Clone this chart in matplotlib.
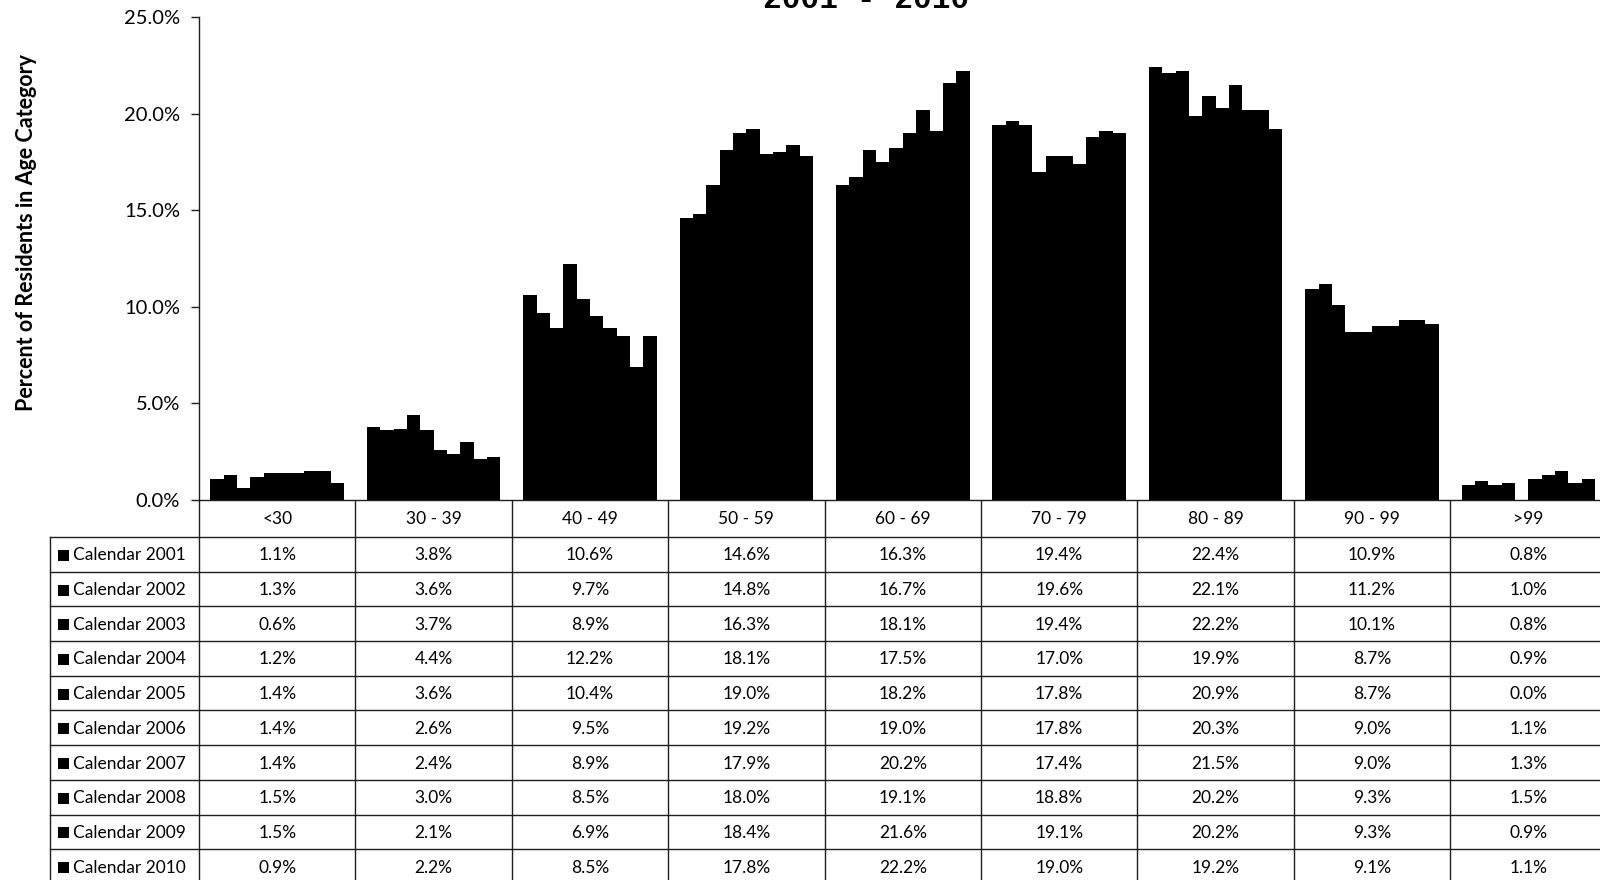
import matplotlib
matplotlib.use("Agg")
import matplotlib.pyplot as plt
import numpy as np
from matplotlib.ticker import FuncFormatter

plt.rcParams["font.family"] = ["Lato", "DejaVu Sans"]

# ---- data -------------------------------------------------------------
age_groups = ["<30", "30 - 39", "40 - 49", "50 - 59", "60 - 69",
              "70 - 79", "80 - 89", "90 - 99", ">99"]
series_names = ["Calendar 2001", "Calendar 2002", "Calendar 2003",
                "Calendar 2004", "Calendar 2005", "Calendar 2006",
                "Calendar 2007", "Calendar 2008", "Calendar 2009",
                "Calendar 2010"]
cal_2001 = [1.1, 3.8, 10.6, 14.6, 16.3, 19.4, 22.4, 10.9, 0.8]
cal_2002 = [1.3, 3.6, 9.7, 14.8, 16.7, 19.6, 22.1, 11.2, 1.0]
cal_2003 = [0.6, 3.7, 8.9, 16.3, 18.1, 19.4, 22.2, 10.1, 0.8]
cal_2004 = [1.2, 4.4, 12.2, 18.1, 17.5, 17.0, 19.9, 8.7, 0.9]
cal_2005 = [1.4, 3.6, 10.4, 19.0, 18.2, 17.8, 20.9, 8.7, 0.0]
cal_2006 = [1.4, 2.6, 9.5, 19.2, 19.0, 17.8, 20.3, 9.0, 1.1]
cal_2007 = [1.4, 2.4, 8.9, 17.9, 20.2, 17.4, 21.5, 9.0, 1.3]
cal_2008 = [1.5, 3.0, 8.5, 18.0, 19.1, 18.8, 20.2, 9.3, 1.5]
cal_2009 = [1.5, 2.1, 6.9, 18.4, 21.6, 19.1, 20.2, 9.3, 0.9]
cal_2010 = [0.9, 2.2, 8.5, 17.8, 22.2, 19.0, 19.2, 9.1, 1.1]
series_values = [cal_2001, cal_2002, cal_2003, cal_2004, cal_2005,
                 cal_2006, cal_2007, cal_2008, cal_2009, cal_2010]
y_ticks = [0, 5, 10, 15, 20, 25]

# ---- figure layout (pixel based, 1600 x 880) ---------------------------
W, H = 1600, 880
fig = plt.figure(figsize=(16, 8.8), dpi=100)
fig.patch.set_facecolor("white")

ax_left, ax_top, ax_bottom = 199.0, 17.0, 500.0
col_w = 156.4
n_groups = len(age_groups)
ax_right = ax_left + col_w * n_groups
ax = fig.add_axes([ax_left / W, 1 - ax_bottom / H,
                   (ax_right - ax_left) / W, (ax_bottom - ax_top) / H])

line_col = "#1e1e1e"

# ---- clustered bars ----------------------------------------------------
n_series = len(series_values)
margin = 0.073
bar_w = (1 - 2 * margin) / n_series
x = np.arange(n_groups)
for k, vals in enumerate(series_values):
    offs = -0.5 + margin + bar_w * (k + 0.5)
    ax.bar(x + offs, vals, width=bar_w, color="black", linewidth=0,
           label=series_names[k])

ax.set_xlim(-0.5, n_groups - 0.5)
ax.set_ylim(0, 25)
ax.set_yticks(y_ticks)
ax.yaxis.set_major_formatter(FuncFormatter(lambda v, p: f"{v:.1f}%"))
ax.set_xticks([])
ax.tick_params(axis="y", direction="out", length=6, width=1,
               color=line_col, labelsize=14.5, pad=7.5)
for s in ("top", "right"):
    ax.spines[s].set_visible(False)
for s in ("left", "bottom"):
    ax.spines[s].set_color(line_col)
    ax.spines[s].set_linewidth(1.0)

# ---- data table underneath ---------------------------------------------
ov = fig.add_axes([0, 0, 1, 1], zorder=-1)
ov.set_xlim(0, W)
ov.set_ylim(H, 0)
ov.axis("off")

label_left = 50.0
header_top, header_bot = ax_bottom, 537.0
row_h = 34.7
n_rows = len(series_names)
table_bot = header_bot + row_h * n_rows
col_edges = [ax_left + col_w * i for i in range(n_groups + 1)]

# vertical lines
for xe in col_edges:
    ov.plot([xe, xe], [header_top, table_bot], color=line_col, lw=1)
ov.plot([label_left, label_left], [header_bot, table_bot], color=line_col, lw=1)
# horizontal lines
for r in range(n_rows + 1):
    yy = header_bot + row_h * r
    ov.plot([label_left, col_edges[-1]], [yy, yy], color=line_col, lw=1)

# header labels
for i, g in enumerate(age_groups):
    cx = (col_edges[i] + col_edges[i + 1]) / 2
    ov.text(cx, (header_top + header_bot) / 2 + 1, g, ha="center",
            va="center", fontsize=12.5)

# rows
for r, (name, vals) in enumerate(zip(series_names, series_values)):
    cy = header_bot + row_h * (r + 0.5) + 1
    ov.add_patch(plt.Rectangle((58, cy - 5.5), 11, 11, color="black", lw=0))
    ov.text(73, cy, name, ha="left", va="center", fontsize=12.5)
    for i, v in enumerate(vals):
        cx = (col_edges[i] + col_edges[i + 1]) / 2
        ov.text(cx, cy, f"{v:.1f}%", ha="center", va="center", fontsize=12.5)

# ---- titles -----------------------------------------------------------
fig.text(27 / W, 1 - 232 / H, "Percent of Residents in Age Category",
         rotation=90, ha="center", va="center", fontsize=15.5,
         fontweight="bold")
fig.text(866 / W, 1 - 8 / H, "2001 - 2010", ha="center", va="baseline",
         fontsize=22.5, fontweight="bold",
         family=["Liberation Mono", "DejaVu Sans Mono"])

fig.savefig("out.png", dpi=100, facecolor="white")
